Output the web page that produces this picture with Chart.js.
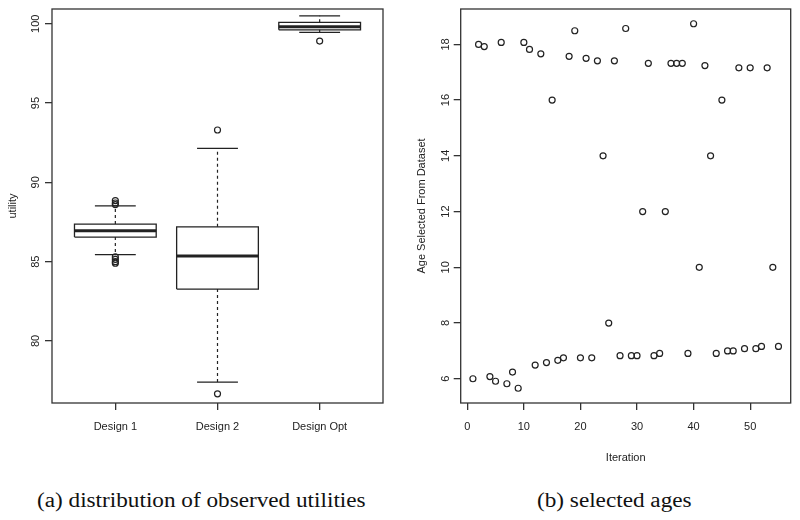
<!DOCTYPE html>
<html>
<head>
<meta charset="utf-8">
<script src="https://cdn.jsdelivr.net/npm/chart.js@4"></script>
<style>
body{margin:0;background:#fff;width:800px;height:520px;position:relative;overflow:hidden}
canvas{position:absolute;top:0}
#c1{left:0}
#c2{left:400px}
.cap{position:absolute;top:488px;font-family:"Liberation Serif",serif;font-size:20px;line-height:24px;color:#111;white-space:nowrap;transform:scaleX(1.16);transform-origin:left top}
</style>
</head>
<body>
<canvas id="c1" width="400" height="480"></canvas>
<canvas id="c2" width="400" height="480"></canvas>
<div class="cap" style="left:37px">(a) distribution of observed utilities</div>
<div class="cap" style="left:537px">(b) selected ages</div>
<script>
// (a) boxplot of utilities
var designs = ['Design 1', 'Design 2', 'Design Opt'];
var whiskLo = [85.44, 77.4, 99.46];
var q1 = [86.55, 83.27, 99.62];
var med = [86.95, 85.35, 99.81];
var q3 = [87.37, 87.2, 100.09];
var whiskHi = [88.52, 92.14, 100.5];
var outliers = [[88.6, 88.7, 88.85, 85.3, 85.15, 85.0, 84.9], [93.3, 76.67], [98.91]];
var utilTicks = [80, 85, 90, 95, 100];

// (b) selected ages per iteration
var iteration = [1, 2, 3, 4, 5, 6, 7, 8, 9, 10, 11, 12, 13, 14, 15, 16, 17, 18, 19, 20,
  21, 22, 23, 24, 25, 26, 27, 28, 29, 30, 31, 32, 33, 34, 35, 36, 37, 38, 39, 40,
  41, 42, 43, 44, 45, 46, 47, 48, 49, 50, 51, 52, 53, 54, 55];
var age = [6.0, 18.0, 17.92, 6.08, 5.91, 18.07, 5.82, 6.24, 5.66, 18.07,
  17.82, 6.49, 17.66, 6.58, 16.0, 6.66, 6.75, 17.57, 18.49, 6.75,
  17.5, 6.75, 17.41, 14.0, 8.0, 17.41, 6.83, 18.57, 6.83, 6.83,
  12.0, 17.32, 6.83, 6.91, 12.0, 17.32, 17.32, 17.32, 6.91, 18.74,
  10.0, 17.24, 14.0, 6.91, 16.0, 7.0, 7.0, 17.16, 7.08, 17.16,
  7.08, 7.16, 17.16, 10.0, 7.16];
var iterTicks = [0, 10, 20, 30, 40, 50];
var ageTicks = [6, 8, 10, 12, 14, 16, 18];

var ink = '#222';
var regular = {family: 'Liberation Sans', size: 11};
var narrow = {family: 'Liberation Sans Narrow, Liberation Sans', size: 11};

var frame = {
  id: 'frame',
  afterDraw: function(c) {
    var a = c.chartArea, ctx = c.ctx;
    ctx.save();
    ctx.strokeStyle = '#333';
    ctx.lineWidth = 1.3;
    ctx.strokeRect(a.left, a.top, a.right - a.left, a.bottom - a.top);
    ctx.restore();
  }
};

function tickGrid() {
  return {drawOnChartArea: false, drawTicks: true, tickLength: 7, color: '#333', lineWidth: 1.3};
}

function line(data, width, dash) {
  return {data: data, showLine: true, pointRadius: 0, borderColor: ink, borderWidth: width,
    borderDash: dash || [], spanGaps: false, fill: false};
}

function circles(data) {
  return {data: data, showLine: false, pointStyle: 'circle', pointRadius: 3, borderWidth: 1.2,
    pointBorderColor: ink, pointBackgroundColor: 'rgba(0,0,0,0)'};
}

// build the box parts from the arrays
var boxSets = [];
for (var i = 0; i < designs.length; i++) {
  var x = i + 1;
  boxSets.push(line([{x: x - 0.4, y: q1[i]}, {x: x + 0.4, y: q1[i]}, {x: x + 0.4, y: q3[i]},
    {x: x - 0.4, y: q3[i]}, {x: x - 0.4, y: q1[i]}], 1.3));
  boxSets.push(line([{x: x - 0.4, y: med[i]}, {x: x + 0.4, y: med[i]}], 3));
  boxSets.push(line([{x: x, y: q3[i]}, {x: x, y: whiskHi[i]}, {x: x, y: null},
    {x: x, y: q1[i]}, {x: x, y: whiskLo[i]}], 1.2, [3, 3]));
  boxSets.push(line([{x: x - 0.2, y: whiskHi[i]}, {x: x + 0.2, y: whiskHi[i]}, {x: x, y: null},
    {x: x - 0.2, y: whiskLo[i]}, {x: x + 0.2, y: whiskLo[i]}], 1.3));
  boxSets.push(circles(outliers[i].map(function(v) { return {x: x, y: v}; })));
}

new Chart(document.getElementById('c1'), {
  type: 'scatter',
  data: {datasets: boxSets},
  plugins: [frame],
  options: {
    responsive: false,
    animation: false,
    layout: {padding: {left: 0, top: 9, right: 17, bottom: 0}},
    plugins: {legend: {display: false}, tooltip: {enabled: false}},
    scales: {
      x: {
        type: 'linear', min: 0.38, max: 3.62,
        afterBuildTicks: function(s) { s.ticks = [1, 2, 3].map(function(v) { return {value: v}; }); },
        afterFit: function(s) { s.height = 77; },
        ticks: {callback: function(v) { return designs[v - 1]; }, font: narrow, color: ink,
          padding: 10, autoSkip: false, maxRotation: 0},
        grid: tickGrid(),
        border: {display: false}
      },
      y: {
        min: 76.09, max: 100.93,
        afterBuildTicks: function(s) { s.ticks = utilTicks.map(function(v) { return {value: v}; }); },
        afterFit: function(s) { s.width = 52; },
        ticks: {minRotation: 90, maxRotation: 90, crossAlign: 'center', padding: 0, font: regular,
          color: ink, autoSkip: false},
        grid: tickGrid(),
        border: {display: false},
        title: {display: true, text: 'utility', font: regular, color: ink, padding: {top: 6.4, bottom: 0}}
      }
    }
  }
});

new Chart(document.getElementById('c2'), {
  type: 'scatter',
  data: {datasets: [circles(iteration.map(function(it, k) { return {x: it, y: age[k]}; }))]},
  plugins: [frame],
  options: {
    responsive: false,
    animation: false,
    layout: {padding: {left: 0, top: 9, right: 9.3, bottom: 0}},
    plugins: {legend: {display: false}, tooltip: {enabled: false}},
    scales: {
      x: {
        type: 'linear', min: -1.16, max: 57.16,
        afterBuildTicks: function(s) { s.ticks = iterTicks.map(function(v) { return {value: v}; }); },
        afterFit: function(s) { s.height = 77; },
        ticks: {font: narrow, color: ink, padding: 10, autoSkip: false, maxRotation: 0},
        grid: tickGrid(),
        border: {display: false},
        title: {display: true, text: 'Iteration', font: narrow, color: ink, padding: {top: 0, bottom: 15.7}}
      },
      y: {
        min: 5.13, max: 19.27,
        afterBuildTicks: function(s) { s.ticks = ageTicks.map(function(v) { return {value: v}; }); },
        afterFit: function(s) { s.width = 60.7; },
        ticks: {minRotation: 90, maxRotation: 90, crossAlign: 'center', padding: 1.6, font: regular,
          color: ink, autoSkip: false},
        grid: tickGrid(),
        border: {display: false},
        title: {display: true, text: 'Age Selected From Dataset', font: regular, color: ink,
          padding: {top: 15, bottom: 0}}
      }
    }
  }
});
</script>
</body>
</html>
